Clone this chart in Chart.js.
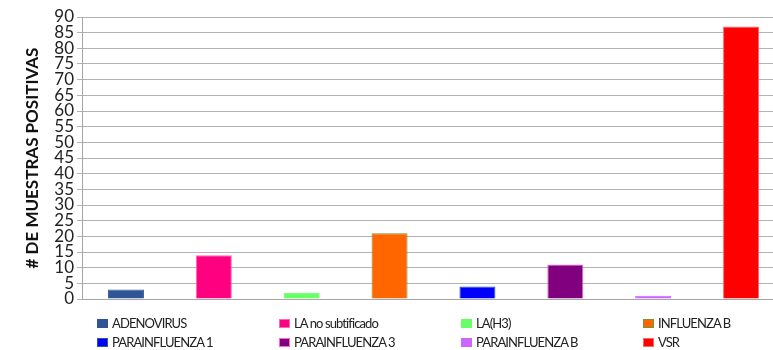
<!DOCTYPE html>
<html>
<head>
<meta charset="utf-8">
<script src="https://cdn.jsdelivr.net/npm/chart.js@4"></script>
<style>
  body { margin: 0; background: #fff; }
  #wrap { position: relative; width: 773px; height: 350px; overflow: hidden; }
  #legend {
    position: absolute; left: 97px; top: 316px;
    display: grid; grid-template-columns: repeat(4, 182px); row-gap: 5px;
    font-family: Lato, sans-serif; font-size: 13px; letter-spacing: -0.9px; color: #222;
  }
  #legend div { display: flex; align-items: center; height: 14px; }
  #legend span.box { width: 11px; height: 9px; margin-right: 4px; box-sizing: border-box; border: 1px solid; }
</style>
</head>
<body>
<div id="wrap">
  <!-- plot area runs slightly past the right edge of the frame -->
  <canvas id="muestras-chart" width="785" height="350"></canvas>
  <div id="legend"></div>
</div>
<script>
const agentes = ['ADENOVIRUS', 'LA no subtificado', 'LA(H3)', 'INFLUENZA B', 'PARAINFLUENZA 1', 'PARAINFLUENZA 3', 'PARAINFLUENZA B', 'VSR'];
const positivas = [3, 14, 2, 21, 4, 11, 1, 87];
const colores = ['#2f5597', '#ff0080', '#66ff66', '#ff6600', '#0000ff', '#800080', '#cc66ff', '#ff0000'];
const bordes = ['#2f5597', '#ff66b3', '#66ff66', '#77933c', '#2f5597', '#ff66cc', '#cc66ff', '#ff6666'];
const yTicks = [0, 5, 10, 15, 20, 25, 30, 35, 40, 45, 50, 55, 60, 65, 70, 75, 80, 85, 90];

// one dataset per agent so each bar gets its own legend entry
const datasets = agentes.map((agente, i) => ({
  label: agente,
  data: positivas.map((v, j) => (j === i ? v : null)),
  backgroundColor: colores[i],
  borderColor: bordes[i],
  borderWidth: 1
}));

const ctx = document.getElementById('muestras-chart');
new Chart(ctx, {
  type: 'bar',
  data: {
    labels: agentes,
    datasets: datasets
  },
  options: {
    responsive: false,
    animation: false,
    grouped: false,
    barPercentage: 0.41,
    categoryPercentage: 1,
    layout: {
      padding: { top: 17, right: 0, bottom: 43, left: 0 }
    },
    scales: {
      x: {
        ticks: { display: false },
        grid: { display: false },
        border: { color: '#a6a6a6' }
      },
      y: {
        min: 0,
        max: 90,
        afterBuildTicks: (axis) => { axis.ticks = yTicks.map(v => ({ value: v })); },
        afterFit: (axis) => { axis.width = 82; },
        ticks: {
          autoSkip: false,
          padding: 3,
          color: '#222',
          font: { family: 'Lato', size: 17, lineHeight: 1 }
        },
        grid: { color: '#b3b3b3', tickLength: 5 },
        border: { color: '#a6a6a6' },
        title: {
          display: true,
          text: '# DE MUESTRAS POSITIVAS',
          color: '#111',
          font: { family: 'Lato', size: 17, weight: 'bold' },
          padding: { top: 22, bottom: 0 }
        }
      }
    },
    plugins: {
      legend: { display: false },
      tooltip: { enabled: false }
    }
  }
});

const legend = document.getElementById('legend');
agentes.forEach((agente, i) => {
  const item = document.createElement('div');
  const box = document.createElement('span');
  box.className = 'box';
  box.style.background = colores[i];
  box.style.borderColor = bordes[i];
  item.appendChild(box);
  item.appendChild(document.createTextNode(agente));
  legend.appendChild(item);
});
</script>
</body>
</html>
